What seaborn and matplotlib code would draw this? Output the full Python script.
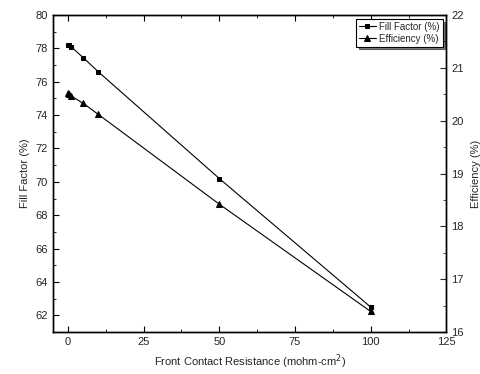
import numpy as np
import pandas as pd
import matplotlib
matplotlib.use('Agg')
import matplotlib.pyplot as plt
import seaborn as sns
from matplotlib.ticker import MultipleLocator

# Front contact resistance (mohm-cm2)
resistance = [0.1, 0.5, 1, 5, 10, 50, 100]
fill_factor = [78.22, 78.18, 78.1, 77.45, 76.6, 70.2, 62.5]
efficiency = [20.52, 20.50, 20.47, 20.33, 20.12, 18.42, 16.39]

df = pd.DataFrame({'R': resistance, 'FF': fill_factor, 'Eff': efficiency})

sns.set_style('ticks')
plt.rcParams['font.family'] = ['Liberation Sans', 'DejaVu Sans']
plt.rcParams['xtick.direction'] = 'in'
plt.rcParams['ytick.direction'] = 'in'

fig, ax = plt.subplots(figsize=(4.8, 3.74), dpi=100)
fig.subplots_adjust(left=0.11, right=0.93, top=0.96, bottom=0.112)

sns.lineplot(data=df, x='R', y='FF', marker='s', markersize=3.5, color='black',
             linewidth=0.8, markeredgecolor='black', ax=ax, label='Fill Factor (%)')
ax2 = ax.twinx()
sns.lineplot(data=df, x='R', y='Eff', marker='^', markersize=4.5, color='black',
             linewidth=0.8, markeredgecolor='black', ax=ax2, label='Efficiency (%)')

ax.set_xlim(-5, 125)
ax.set_ylim(61, 80)
ax2.set_ylim(16, 22)
ax.xaxis.set_major_locator(MultipleLocator(25))
ax.xaxis.set_minor_locator(MultipleLocator(12.5))
ax.yaxis.set_major_locator(MultipleLocator(2))
ax.yaxis.set_minor_locator(MultipleLocator(1))
ax2.yaxis.set_major_locator(MultipleLocator(1))
ax2.yaxis.set_minor_locator(MultipleLocator(0.5))

for a in (ax, ax2):
    for s in a.spines.values():
        s.set_linewidth(1.0)
        s.set_color('black')
ax.tick_params(which='both', top=True, right=False, labelsize=8, color='black')
ax.tick_params(which='major', length=4)
ax.tick_params(which='minor', length=2)
ax2.tick_params(which='major', length=4, labelsize=8)
ax2.tick_params(which='minor', length=2)

ax.set_xlabel('Front Contact Resistance (mohm-cm$^2$)', fontsize=8)
ax.set_ylabel('Fill Factor (%)', fontsize=8)
ax2.set_ylabel('Efficiency (%)', fontsize=8, labelpad=5)

h1, l1 = ax.get_legend_handles_labels()
h2, l2 = ax2.get_legend_handles_labels()
ax.get_legend().remove()
ax2.get_legend().remove()
leg = ax2.legend(h1 + h2, l1 + l2, loc='upper right', fontsize=7, frameon=True,
                 fancybox=False, shadow={'color': 'black'}, handlelength=1.8,
                 borderaxespad=0.4, borderpad=0.3, labelspacing=0.2, handletextpad=0.3)
leg.get_frame().set_edgecolor('black')
leg.get_frame().set_linewidth(0.8)

fig.savefig('out.png', dpi=100)
